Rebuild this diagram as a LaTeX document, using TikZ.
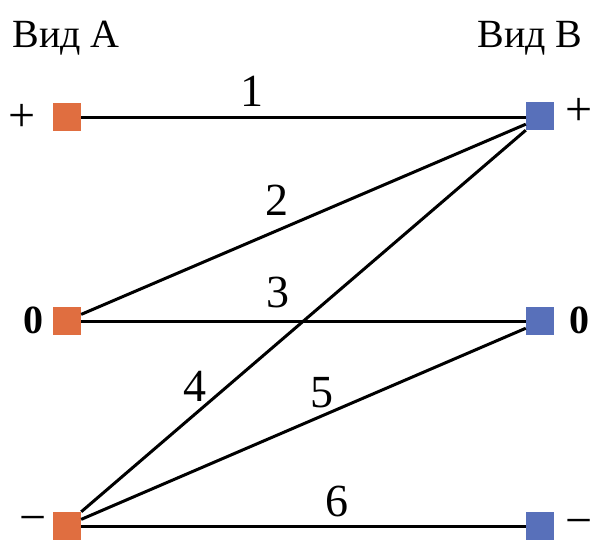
\documentclass[tikz,border=0pt]{standalone}
\usepackage{fontspec}
\setmainfont{Liberation Serif}
\definecolor{sqorange}{RGB}{224,110,64}
\definecolor{sqblue}{RGB}{88,112,186}
\tikzset{
  sqA/.style={fill=sqorange, draw=none, minimum size=28pt, inner sep=0pt},
  sqB/.style={fill=sqblue, draw=none, minimum size=28pt, inner sep=0pt},
  wire/.style={draw=black, line width=3pt},
  num/.style={font=\fontsize{46}{46}\selectfont, inner sep=0pt},
  sign/.style={font=\fontsize{48}{48}\selectfont, inner sep=0pt},
  zero/.style={font=\fontsize{40}{40}\selectfont\bfseries, inner sep=0pt},
  head/.style={font=\fontsize{40}{40}\selectfont, inner sep=0pt, anchor=base}
}
\begin{document}
\begin{tikzpicture}[x=1pt,y=-1pt]
\useasboundingbox (0,0) rectangle (591,539);
% headings
\node[head] (hA) at (66,47) {Вид А};
\node[head] (hB) at (530,47) {Вид В};
% squares
\node[sqA] (LP) at (67,117) {};
\node[sqA] (L0) at (67,321) {};
\node[sqA] (LM) at (67,526) {};
\node[sqB] (RP) at (540,116) {};
\node[sqB] (R0) at (540,321) {};
\node[sqB] (RM) at (540,526) {};
% signs
\node[sign] (sLP) at (22,118) {+};
\node[zero] (sL0) at (33,320) {0};
\node[sign] (sLM) at (33,525) {\symbol{"2212}};
\node[sign] (sRP) at (579,112) {+};
\node[zero] (sR0) at (579,320) {0};
\node[sign] (sRM) at (579,528) {\symbol{"2212}};
% wires
\draw[wire] (LP.east) -- (RP.west |- LP.east);
\draw[wire] (L0.25) -- (RP.210);
\draw[wire] (L0.east) -- (R0.west);
\draw[wire] (LM.north east) -- (RP.south west);
\draw[wire] (LM.25) -- (R0.207);
\draw[wire] (LM.east) -- (RM.west);
% labels
\node[num] (n1) at (252,91) {1};
\node[num] (n2) at (277,200) {2};
\node[num] (n3) at (278,292) {3};
\node[num] (n4) at (195,386) {4};
\node[num] (n5) at (322,393) {5};
\node[num] (n6) at (337,501) {6};
\end{tikzpicture}
\end{document}
